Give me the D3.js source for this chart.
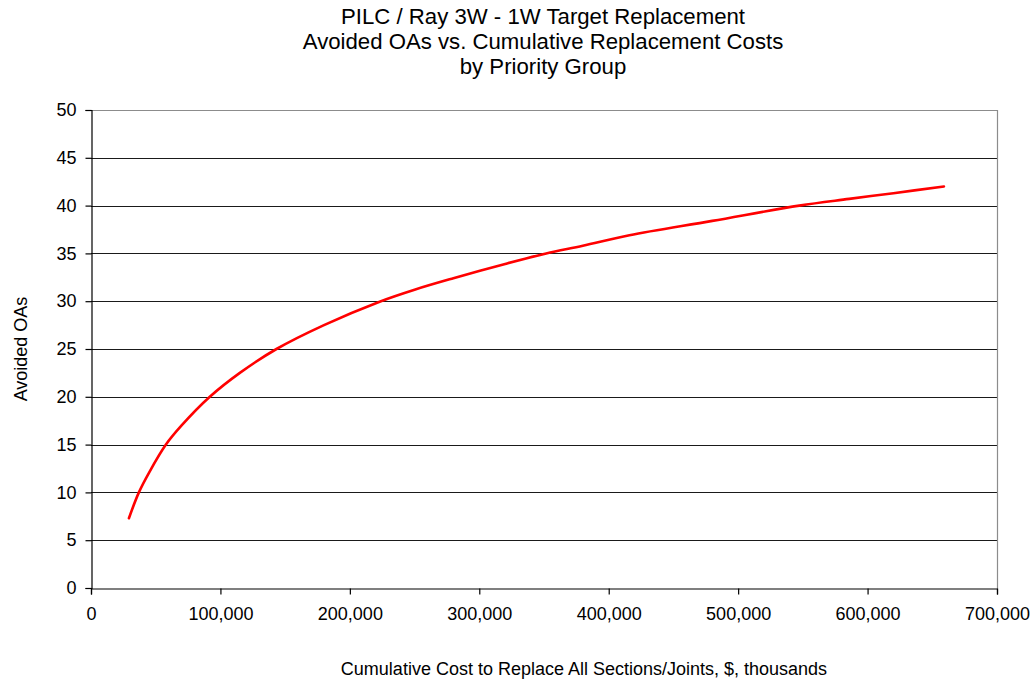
<!DOCTYPE html>
<html>
<head>
<meta charset="utf-8">
<script src="https://cdn.jsdelivr.net/npm/d3@7"></script>
<style>
  html, body { margin: 0; padding: 0; background: #fff; }
  svg { display: block; font-family: Arial, "Liberation Sans", sans-serif; }
</style>
</head>
<body>
<svg id="chart" width="1036" height="683"></svg>
<script>
// Cumulative replacement cost ($ thousands) by priority group
const cumulativeCost = [29300, 37000, 45000, 57900, 70000, 91800, 115000, 143300, 180000,
  223000, 250000, 280000, 320000, 351700, 380000, 416000, 480000, 547200, 585800, 620000, 659000];
// Avoided OAs at each cumulative cost step
const avoidedOAs = [7.3, 10, 12.1, 15, 17.0, 20, 22.5, 25, 27.5,
  29.95, 31.2, 32.4, 33.9, 35, 35.8, 36.9, 38.4, 40, 40.7, 41.3, 42];

const xTicks = [0, 100000, 200000, 300000, 400000, 500000, 600000, 700000];
const yTicks = [0, 5, 10, 15, 20, 25, 30, 35, 40, 45, 50];

const titleLines = [
  "PILC / Ray 3W - 1W Target Replacement",
  "Avoided OAs vs. Cumulative Replacement Costs",
  "by Priority Group"
];
const xTitle = "Cumulative Cost to Replace All Sections/Joints, $, thousands";
const yTitle = "Avoided OAs";

const svg = d3.select("#chart");
const W = 1036, H = 683;
const m = { left: 91, right: 997, top: 110, bottom: 588 };

const x = d3.scaleLinear().domain([0, 700000]).range([m.left, m.right]);
const y = d3.scaleLinear().domain([0, 50]).range([m.bottom, m.top]);

svg.append("rect").attr("width", W).attr("height", H).attr("fill", "#fff");

// Horizontal gridlines (top one is the gray frame edge)
svg.append("g").selectAll("line")
  .data(yTicks.filter(d => d > 0))
  .join("line")
  .attr("x1", m.left).attr("x2", m.right)
  .attr("y1", d => Math.round(y(d)) + 0.5).attr("y2", d => Math.round(y(d)) + 0.5)
  .attr("stroke", d => d === 50 ? "#8c8c8c" : "#1a1a1a")
  .attr("stroke-width", 1.2);

// Right frame edge
svg.append("line")
  .attr("x1", m.right + 0.5).attr("x2", m.right + 0.5)
  .attr("y1", m.top).attr("y2", m.bottom)
  .attr("stroke", "#8c8c8c").attr("stroke-width", 1.2);

// Y axis
const yAxis = d3.axisLeft(y).tickValues(yTicks).tickSize(6).tickPadding(9)
  .tickFormat(d3.format("d"));
const gy = svg.append("g").attr("transform", `translate(${m.left + 0.5},0)`).call(yAxis);
gy.select(".domain").attr("stroke", "#000").attr("stroke-width", 1.2);
gy.selectAll(".tick line").attr("stroke", "#000").attr("stroke-width", 1.2);
gy.selectAll(".tick text").attr("font-size", 18).attr("fill", "#000")
  .attr("font-family", "Arial, 'Liberation Sans', sans-serif");

// X axis
const xAxis = d3.axisBottom(x).tickValues(xTicks).tickSize(6).tickPadding(13)
  .tickFormat(d3.format(","));
const gx = svg.append("g").attr("transform", `translate(0,${m.bottom + 0.5})`).call(xAxis);
gx.select(".domain").attr("stroke", "#000").attr("stroke-width", 1.2);
gx.selectAll(".tick line").attr("stroke", "#000").attr("stroke-width", 1.2);
gx.selectAll(".tick text").attr("font-size", 18).attr("fill", "#000")
  .attr("font-family", "Arial, 'Liberation Sans', sans-serif");

// Curve
const pts = cumulativeCost.map((c, i) => [c, avoidedOAs[i]]);
const line = d3.line().x(d => x(d[0])).y(d => y(d[1])).curve(d3.curveCatmullRom.alpha(0.5));
svg.append("path").datum(pts)
  .attr("d", line)
  .attr("fill", "none")
  .attr("stroke", "#ff0000")
  .attr("stroke-width", 2.6)
  .attr("stroke-linecap", "round")
  .attr("stroke-linejoin", "round");

// Title
svg.append("g").selectAll("text")
  .data(titleLines)
  .join("text")
  .attr("x", 543).attr("y", (d, i) => 24 + i * 25)
  .attr("text-anchor", "middle")
  .attr("font-size", 22.2)
  .attr("fill", "#000")
  .text(d => d);

// Axis titles
svg.append("text")
  .attr("x", 584).attr("y", 675)
  .attr("text-anchor", "middle")
  .attr("font-size", 18)
  .attr("fill", "#000")
  .text(xTitle);

svg.append("text")
  .attr("transform", `translate(27,${(m.top + m.bottom) / 2}) rotate(-90)`)
  .attr("text-anchor", "middle")
  .attr("font-size", 18)
  .attr("fill", "#000")
  .text(yTitle);
</script>
</body>
</html>
